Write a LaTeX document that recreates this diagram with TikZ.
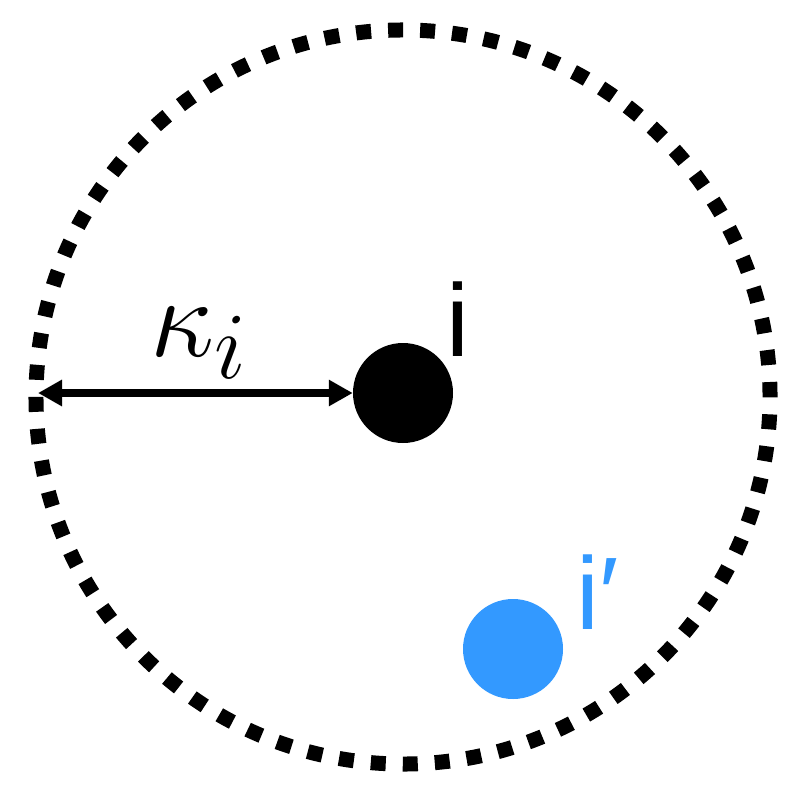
\documentclass[tikz,border=0pt]{standalone}
\usepackage{fontspec}
\setmainfont{Liberation Sans}
\usetikzlibrary{arrows.meta}
\definecolor{ptblue}{RGB}{51,153,255}

\begin{document}
\begin{tikzpicture}[x=0.03cm,y=-0.03cm,>={Triangle[length=0.72cm,width=0.75cm]},
  dot/.style={circle,minimum size=3cm,inner sep=0pt},
  lbl/.style={inner sep=0pt,anchor=base west,font=\fontsize{88}{100}\selectfont}]
\useasboundingbox (0,0) rectangle (796,793);

% neighbourhood
\draw[line width=0.45cm, dash pattern=on 0.45cm off 0.5108cm] (403,397) circle [radius=11.01cm];

\node[dot, fill=black] (i) at (403,393) {};
\node[dot, fill=ptblue] (ip) at (513,649) {};
\node[lbl] (ilbl) at (446,356) {i};
\node[lbl, text=ptblue] (iplbl) at (576,629) {i′};

% radius
\coordinate (rim) at (38,393);
\draw[<->, line width=0.24cm] (rim) -- (i);
\node[anchor=base west, inner sep=0pt, font=\Huge, scale=3.9] (kap) at (150,356) {$\kappa_i$};
\end{tikzpicture}
\end{document}
